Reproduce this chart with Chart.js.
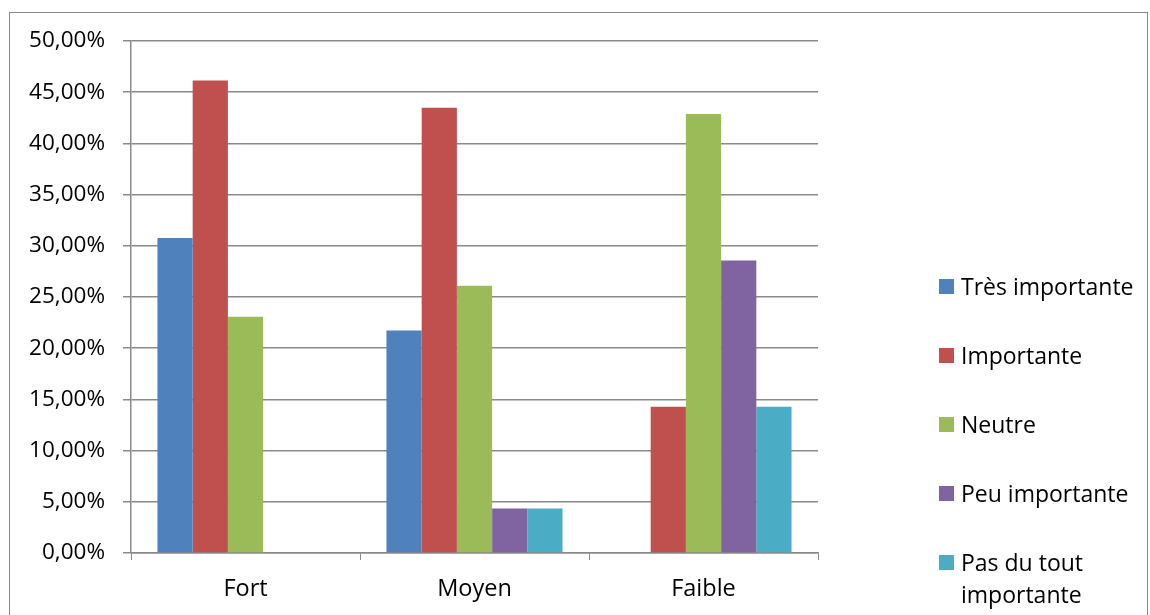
<!DOCTYPE html>
<html>
<head>
<meta charset="utf-8">
<script src="https://cdn.jsdelivr.net/npm/chart.js@4/dist/chart.umd.min.js"></script>
<style>
  body { margin: 0; background: #fff; font-family: "Open Sans", sans-serif; }
  #wrap { position: relative; width: 1150px; height: 615px; overflow: hidden; }
  #frame { position: absolute; left: 9px; top: 12px; width: 1137px; height: 640px; border: 1px solid #8a8a8a; }
  #chart { position: absolute; left: 0; top: 0; }
  #legend { position: absolute; left: 939px; top: 270px; }
  .item { position: relative; height: 69px; font-size: 23px; line-height: 32px; color: #000; }
  .box { position: absolute; left: 0; top: 9px; width: 15px; height: 15px; }
  .lbl { position: absolute; left: 22px; top: 0; white-space: nowrap; }
</style>
</head>
<body>
<div id="wrap">
  <div id="frame"></div>
  <canvas id="chart" width="1150" height="615"></canvas>
  <div id="legend"></div>
</div>
<script>
const categories = ["Fort", "Moyen", "Faible"];
const seriesNames = ["Très importante", "Importante", "Neutre", "Peu importante", ["Pas du tout", "importante"]];
const seriesColors = ["#4F81BD", "#C0504D", "#9BBB59", "#8064A2", "#4BACC6"];
const tresImportante = [30.77, 21.74, 0];
const importante = [46.15, 43.48, 14.29];
const neutre = [23.08, 26.09, 42.86];
const peuImportante = [0, 4.35, 28.57];
const pasDuTout = [0, 4.35, 14.29];

const values = [tresImportante, importante, neutre, peuImportante, pasDuTout];

const ctx = document.getElementById("chart").getContext("2d");
const chart = new Chart(ctx, {
    type: "bar",
    data: {
        labels: categories,
        datasets: values.map((v, i) => ({
            label: Array.isArray(seriesNames[i]) ? seriesNames[i].join(" ") : seriesNames[i],
            data: v,
            backgroundColor: seriesColors[i],
            borderWidth: 0,
            categoryPercentage: 0.769,
            barPercentage: 1
        }))
    },
    options: {
        responsive: false,
        animation: false,
        layout: { padding: { top: 41, right: 332, left: 0, bottom: 0 } },
        plugins: {
            legend: { display: false },
            tooltip: { enabled: false }
        },
        scales: {
            x: {
                grid: { drawOnChartArea: false, drawTicks: true, tickLength: 7, color: "#8a8a8a", offset: true },
                border: { color: "#8a8a8a", width: 1.5 },
                ticks: { color: "#000", font: { family: "Open Sans", size: 23.5 }, padding: 15 },
                afterFit: (scale) => { scale.height = 62; }
            },
            y: {
                min: 0,
                max: 50,
                ticks: {
                    stepSize: 5,
                    color: "#000",
                    font: { family: "Open Sans", size: 22.5 },
                    padding: 18,
                    callback: (v) => v.toFixed(2).replace(".", ",") + "%"
                },
                grid: { color: "#8a8a8a", lineWidth: 1.5, tickLength: 8 },
                border: { color: "#8a8a8a", width: 1.5 },
                afterFit: (scale) => { scale.width = 131; }
            }
        }
    }
});

// legend built as html so the last label can wrap like the original
const legend = document.getElementById("legend");
seriesNames.forEach((name, i) => {
    const item = document.createElement("div");
    item.className = "item";
    const box = document.createElement("div");
    box.className = "box";
    box.style.background = seriesColors[i];
    const lbl = document.createElement("div");
    lbl.className = "lbl";
    lbl.innerHTML = Array.isArray(name) ? name.join("<br>") : name;
    item.appendChild(box);
    item.appendChild(lbl);
    legend.appendChild(item);
});
</script>
</body>
</html>
